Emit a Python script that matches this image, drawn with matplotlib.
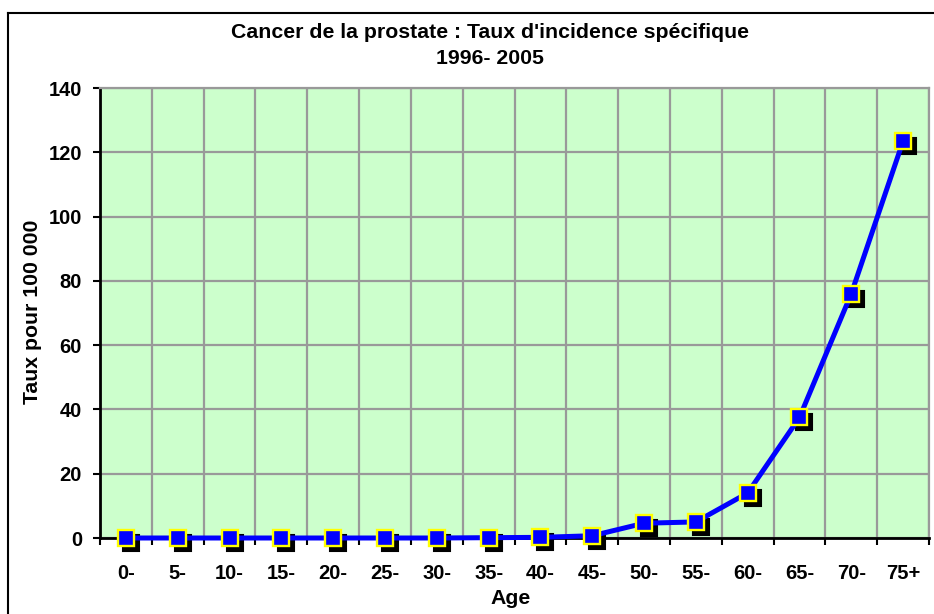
import numpy as np
import matplotlib.pyplot as plt
from matplotlib import transforms
from matplotlib.lines import Line2D

plt.rcParams['font.family'] = 'Liberation Sans'
plt.rcParams['font.weight'] = 'bold'

ages = ["0-", "5-", "10-", "15-", "20-", "25-", "30-", "35-",
        "40-", "45-", "50-", "55-", "60-", "65-", "70-", "75+"]
taux = [0, 0, 0, 0, 0, 0, 0, 0.1, 0.2, 0.7, 4.6, 5.0, 14.0, 37.5, 76.0, 123.5]
yticks = [0, 20, 40, 60, 80, 100, 120, 140]

W, H = 934, 614
fig = plt.figure(figsize=(W / 100, H / 100), dpi=100)
ax = fig.add_axes([100 / W, 1 - 538 / H, 829 / W, 450 / H])
ax.set_facecolor('#ccffcc')

x = np.arange(len(ages))

# marker shadow, offset right/down
shadow = transforms.offset_copy(ax.transData, fig=fig, x=5, y=-5, units='dots')
ax.plot(x, taux, ls='none', marker='s', ms=11.5, mfc='black', mec='black',
        mew=1.5, transform=shadow, zorder=3, clip_on=False)
ax.plot(x, taux, color='#0000ff', lw=3.6, zorder=4, clip_on=False)
ax.plot(x, taux, ls='none', marker='s', ms=11.5, mfc='#0000ff', mec='#ffff00',
        mew=1.7, zorder=5, clip_on=False)

ax.set_xlim(-0.5, len(ages) - 0.5)
ax.set_ylim(0, 140)
ax.set_xticks(x)
ax.set_xticklabels(ages, fontsize=14.5, fontweight='bold')
ax.set_xticks(np.arange(len(ages) + 1) - 0.5, minor=True)
ax.set_yticks(yticks)
ax.set_yticklabels([str(v) for v in yticks], fontsize=14.5, fontweight='bold')

ax.tick_params(axis='x', which='major', length=0, pad=19)
ax.tick_params(axis='x', which='minor', length=5, width=1.5, direction='out')
ax.tick_params(axis='y', length=5, width=1.5, direction='out', pad=8)

ax.grid(True, axis='x', which='minor', color='#999999', lw=1.6)
ax.grid(True, axis='y', which='major', color='#999999', lw=1.6)
ax.set_axisbelow(True)

for s in ['top', 'right']:
    ax.spines[s].set_color('#999999')
    ax.spines[s].set_linewidth(1.6)
for s in ['left', 'bottom']:
    ax.spines[s].set_color('black')
    ax.spines[s].set_linewidth(2)

fig.text(490 / W, 1 - 32 / H, "Cancer de la prostate : Taux d'incidence spécifique",
         ha='center', va='center', fontsize=15.3, fontweight='bold')
fig.text(490 / W, 1 - 58 / H, "1996- 2005",
         ha='center', va='center', fontsize=15.3, fontweight='bold')
fig.text(33 / W, 1 - 312 / H, "Taux pour 100 000", rotation=90,
         ha='center', va='center', fontsize=15.3, fontweight='bold')
fig.text(511 / W, 1 - 599 / H, "Age",
         ha='center', va='center', fontsize=15.3, fontweight='bold')

# chart area frame
fig.add_artist(Line2D([8 / W, 8 / W], [0, 1 - 13 / H], color='black', lw=1.5))
fig.add_artist(Line2D([8 / W, 1], [1 - 13 / H, 1 - 13 / H], color='black', lw=1.5))

fig.savefig('out.png', dpi=100)
